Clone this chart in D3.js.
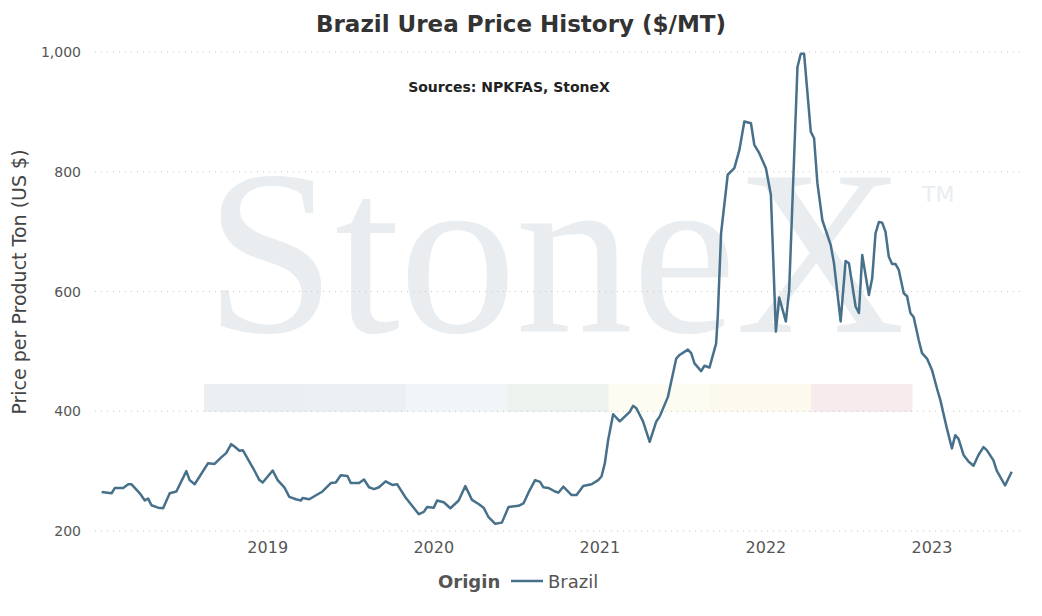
<!DOCTYPE html>
<html><head><meta charset="utf-8">
<script src="https://cdn.jsdelivr.net/npm/d3@7"></script>
<style>body{margin:0;background:#fff;font-family:"DejaVu Sans",Verdana,sans-serif}</style>
</head><body><div id="chart"></div>
<script>
// decimal years and prices
var years = [2018.00,2018.06,2018.08,2018.13,2018.16,2018.18,2018.23,2018.26,2018.28,2018.30,2018.34,2018.37,2018.41,2018.45,2018.51,2018.53,2018.56,2018.59,2018.64,2018.68,2018.72,2018.75,2018.78,2018.80,2018.83,2018.85,2018.91,2018.95,2018.97,2019.03,2019.06,2019.10,2019.13,2019.17,2019.20,2019.21,2019.25,2019.33,2019.38,2019.41,2019.44,2019.48,2019.50,2019.55,2019.58,2019.61,2019.64,2019.67,2019.71,2019.75,2019.78,2019.83,2019.91,2019.94,2019.96,2020.00,2020.02,2020.06,2020.10,2020.15,2020.19,2020.23,2020.27,2020.30,2020.33,2020.37,2020.41,2020.45,2020.51,2020.54,2020.57,2020.61,2020.64,2020.66,2020.69,2020.73,2020.75,2020.78,2020.83,2020.86,2020.90,2020.95,2020.99,2021.01,2021.03,2021.05,2021.08,2021.12,2021.18,2021.20,2021.22,2021.26,2021.30,2021.34,2021.36,2021.41,2021.46,2021.48,2021.53,2021.55,2021.57,2021.61,2021.63,2021.66,2021.70,2021.71,2021.73,2021.77,2021.81,2021.84,2021.87,2021.91,2021.93,2021.96,2022.00,2022.03,2022.06,2022.08,2022.12,2022.14,2022.19,2022.21,2022.23,2022.27,2022.29,2022.31,2022.34,2022.39,2022.41,2022.45,2022.48,2022.50,2022.54,2022.56,2022.58,2022.62,2022.64,2022.66,2022.68,2022.70,2022.72,2022.74,2022.76,2022.78,2022.80,2022.83,2022.85,2022.87,2022.89,2022.92,2022.94,2022.97,2023.00,2023.03,2023.05,2023.09,2023.12,2023.14,2023.16,2023.19,2023.22,2023.25,2023.28,2023.31,2023.33,2023.37,2023.39,2023.44,2023.48];
var prices = [265,263,272,272,278,278,263,251,254,243,239,238,263,266,300,285,278,291,313,312,323,330,345,341,334,335,306,285,281,301,285,273,257,253,251,255,253,266,280,281,293,292,280,280,286,273,270,273,283,277,278,256,228,232,240,239,251,248,238,251,275,252,245,239,223,212,214,240,242,246,264,285,282,273,272,266,264,274,260,260,275,278,285,291,313,352,395,383,399,409,405,383,349,383,391,424,488,494,503,497,480,467,476,473,513,558,697,795,806,836,884,881,845,831,806,761,533,590,550,602,975,997,997,867,856,781,719,678,647,550,651,647,575,564,661,594,622,697,716,715,700,658,646,646,636,597,592,564,557,519,497,488,469,438,419,371,338,360,354,327,316,309,327,340,335,318,301,276,299];
var yTicks = [200,400,600,800,1000];
var xTicks = [2019,2020,2021,2022,2023];
var stripColors = ["#eceff2","#edf0f3","#f1f5f8","#edf2ef","#fcfcf3","#fcf9ee","#f8ebee"];

var W = 1042, H = 616;
var svg = d3.select("#chart").append("svg").attr("width", W).attr("height", H);
var x = d3.scaleLinear().domain([2017.96, 2023.53]).range([95, 1020]);
var y = d3.scaleLinear().domain([200, 1000]).range([531, 52]);

// watermark
svg.append("text").attr("x", 205).attr("y", 332).attr("textLength", 700)
  .attr("font-family", "Liberation Serif, serif").attr("font-size", 235)
  .attr("fill", "#e9edf0").text("StoneX");
svg.append("text").attr("x", 922).attr("y", 202).attr("font-size", 22)
  .attr("fill", "#e9edf0").text("TM");
var sx = d3.scaleBand().domain(d3.range(stripColors.length)).range([204, 912]);
svg.selectAll("rect.strip").data(stripColors).enter().append("rect")
  .attr("x", function(d, i) { return sx(i); }).attr("y", 384)
  .attr("width", sx.bandwidth() + 0.5).attr("height", 28).attr("fill", function(d) { return d; });

// grid
svg.append("g").selectAll("line").data(yTicks).enter().append("line")
  .attr("x1", 95).attr("x2", 1020).attr("y1", y).attr("y2", y)
  .attr("stroke", "#c8c8c8").attr("stroke-dasharray", "1,5");

svg.append("g").selectAll("text").data(yTicks).enter().append("text")
  .attr("x", 81).attr("y", function(d) { return y(d) + 5; }).attr("text-anchor", "end")
  .attr("font-size", 14).attr("fill", "#555").text(d3.format(","));
svg.append("g").selectAll("text").data(xTicks).enter().append("text")
  .attr("x", x).attr("y", 553).attr("text-anchor", "middle")
  .attr("font-size", 16).attr("fill", "#555").text(function(d) { return d; });

var data = years.map(function(d, i) { return {t: d, v: prices[i]}; });
svg.append("path").datum(data)
  .attr("fill", "none").attr("stroke", "#47708a").attr("stroke-width", 2.5)
  .attr("stroke-linejoin", "round")
  .attr("d", d3.line().x(function(d) { return x(d.t); }).y(function(d) { return y(d.v); }));

svg.append("text").attr("x", 521).attr("y", 32).attr("text-anchor", "middle")
  .attr("font-size", 23).attr("font-weight", "bold").attr("fill", "#333")
  .text("Brazil Urea Price History ($/MT)");
svg.append("text").attr("x", 509).attr("y", 92).attr("text-anchor", "middle")
  .attr("font-size", 14).attr("font-weight", "bold").attr("fill", "#222")
  .text("Sources: NPKFAS, StoneX");
svg.append("text").attr("transform", "translate(26,282) rotate(-90)")
  .attr("text-anchor", "middle").attr("font-size", 19).attr("fill", "#444")
  .text("Price per Product Ton (US $)");

// legend
svg.append("text").attr("x", 438).attr("y", 588).attr("font-size", 18)
  .attr("font-weight", "bold").attr("fill", "#555").text("Origin");
svg.append("line").attr("x1", 511).attr("x2", 543).attr("y1", 581).attr("y2", 581)
  .attr("stroke", "#47708a").attr("stroke-width", 2.5);
svg.append("text").attr("x", 548).attr("y", 588).attr("font-size", 18)
  .attr("fill", "#555").text("Brazil");
</script></body></html>
